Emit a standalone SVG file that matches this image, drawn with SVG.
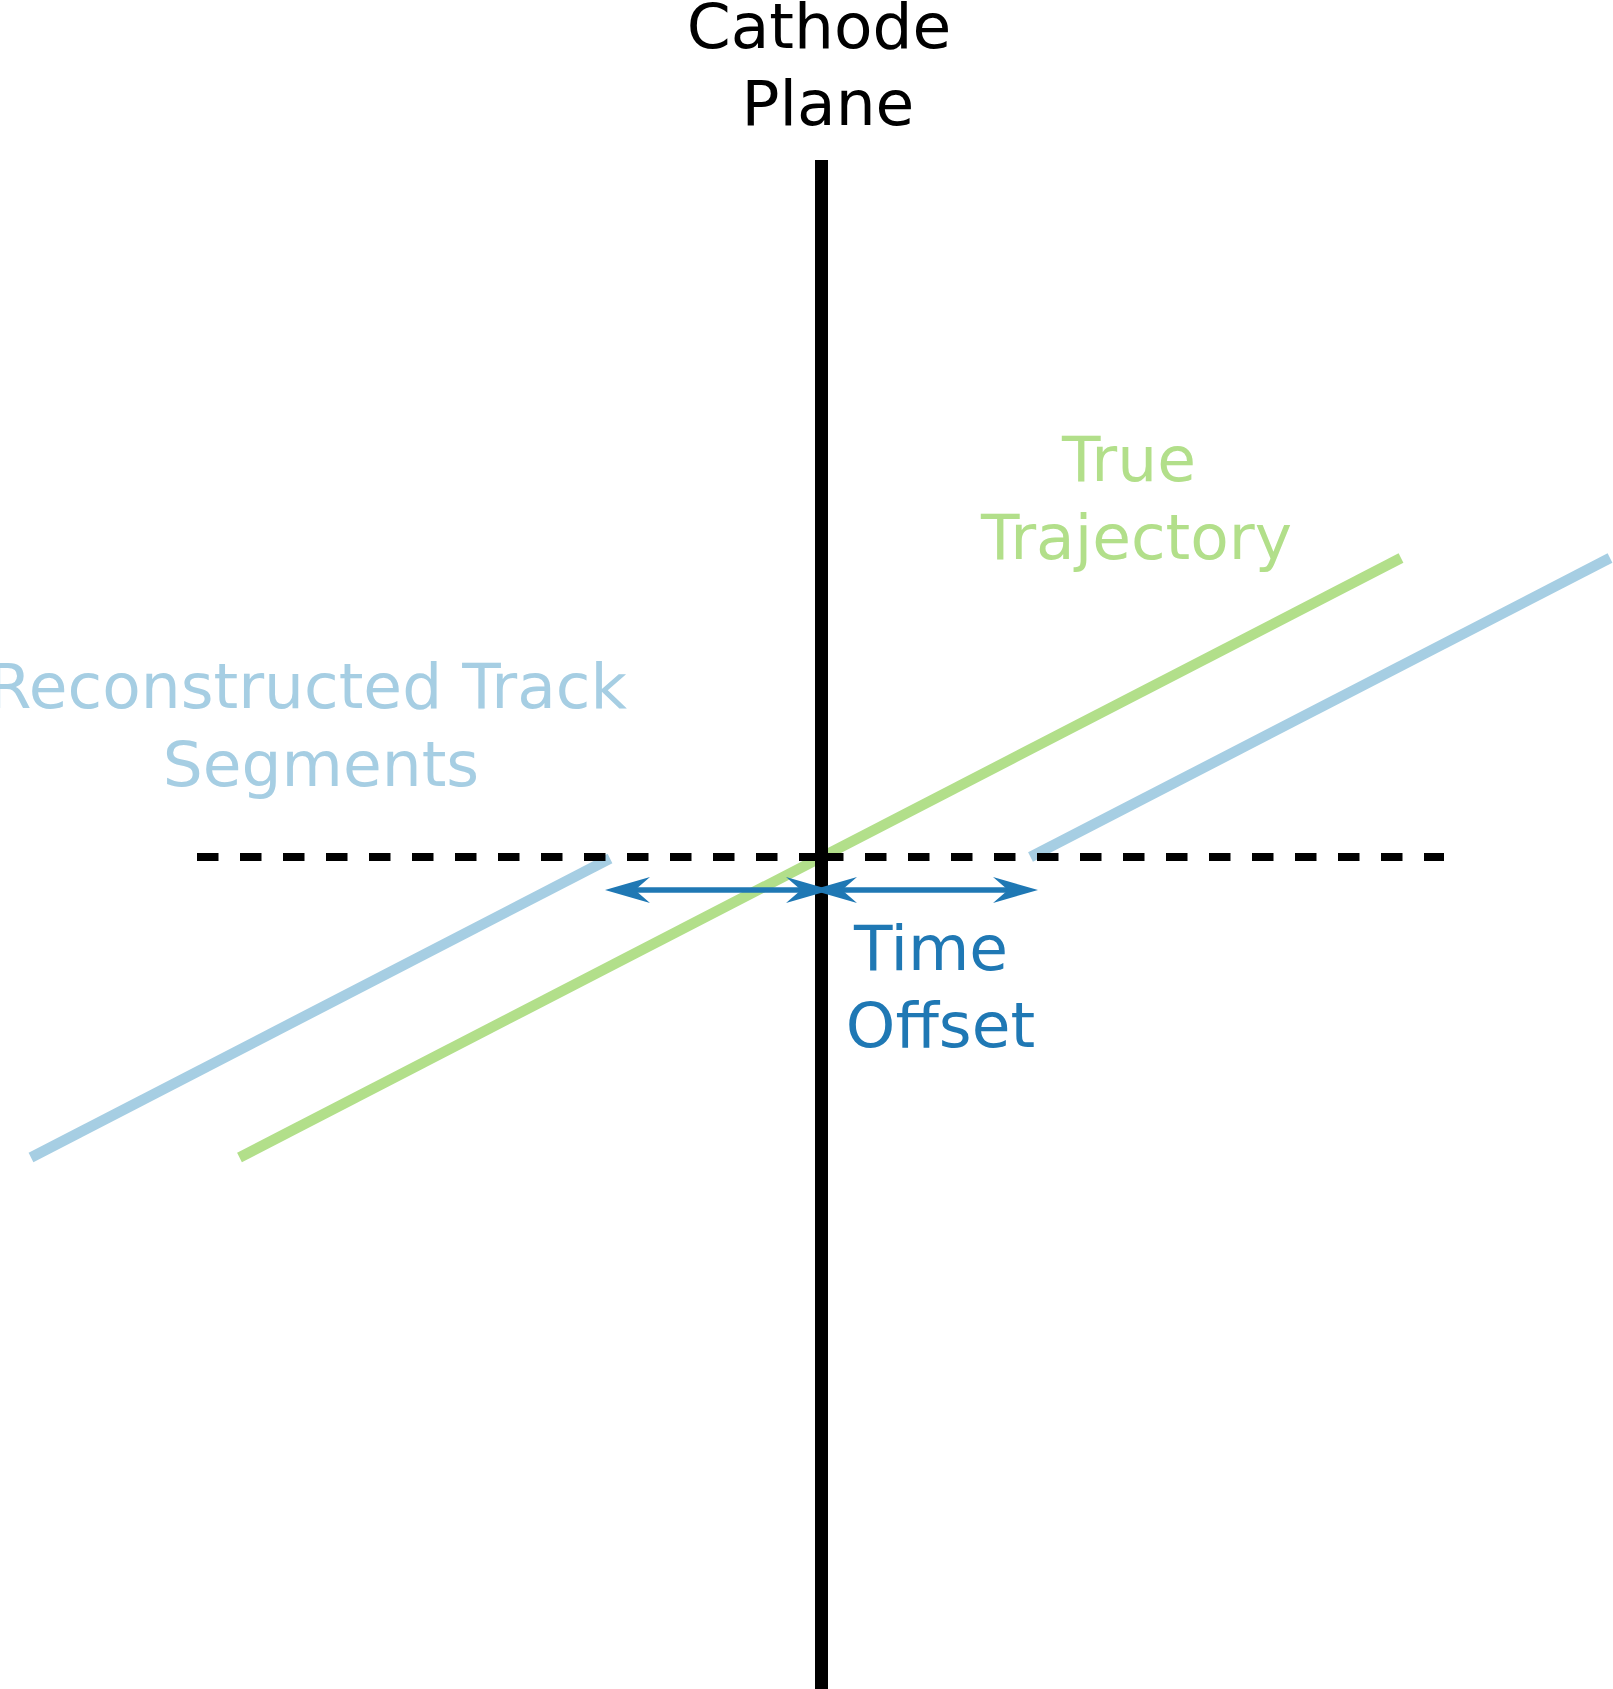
<svg xmlns="http://www.w3.org/2000/svg" width="1613" height="1689" viewBox="0 0 1613 1689">
<style>
  text { font-family: "DejaVu Sans", "Liberation Sans", sans-serif; font-size: 63px; text-anchor: middle; }
  .track { fill: none; stroke-width: 10.5; stroke-linecap: butt; }
  .true { stroke: #b2df8a; }
  .reco { stroke: #a6cee3; }
  .dash { stroke: #000; stroke-width: 8; stroke-dasharray: 21.5 21.5; fill: none; }
  .arrowline { stroke: #1f78b4; stroke-width: 5.5; fill: none; }
  .head { fill: #1f78b4; }
</style>
<rect x="0" y="0" width="1613" height="1689" fill="#fff"/>
<g id="tracks">
  <line id="true-trajectory" class="track true" x1="239.5" y1="1157.5" x2="1401" y2="558"/>
  <line id="reco-left" class="track reco" x1="31" y1="1157.5" x2="610" y2="858.5"/>
  <line id="reco-right" class="track reco" x1="1030.5" y1="857" x2="1610" y2="558"/>
</g>
<g id="time-reference">
  <line class="dash" x1="197" y1="857" x2="822" y2="857"/>
  <line class="dash" x1="822" y1="857" x2="1444" y2="857"/>
</g>
<g id="cathode-plane">
  <line x1="821.5" y1="160" x2="821.5" y2="1689" stroke="#000" stroke-width="13"/>
</g>
<g id="connectors">
  <line class="arrowline" x1="630" y1="890" x2="806" y2="890"/>
  <line class="arrowline" x1="837" y1="890" x2="1013" y2="890"/>
  <polygon class="head" points="605,890 650,877 635,890 650,903"/>
  <polygon class="head" points="831,890 786,877 801,890 786,903"/>
  <polygon class="head" points="812,890 857,877 842,890 857,903"/>
  <polygon class="head" points="1038,890 993,877 1008,890 993,903"/>
</g>
<g id="label-cathode" fill="#000">
  <text x="819" y="48">Cathode</text>
  <text x="828" y="125">Plane</text>
</g>
<g id="label-true" fill="#b2df8a">
  <text x="1129" y="481">True</text>
  <text x="1136.5" y="559">Trajectory</text>
</g>
<g id="label-reco" fill="#a6cee3">
  <text x="627" y="708" style="text-anchor:end">Reconstructed Track</text>
  <text x="321" y="786">Segments</text>
</g>
<g id="label-offset" fill="#1f78b4">
  <text x="931" y="970">Time</text>
  <text x="940.5" y="1047">Offset</text>
</g>
</svg>
